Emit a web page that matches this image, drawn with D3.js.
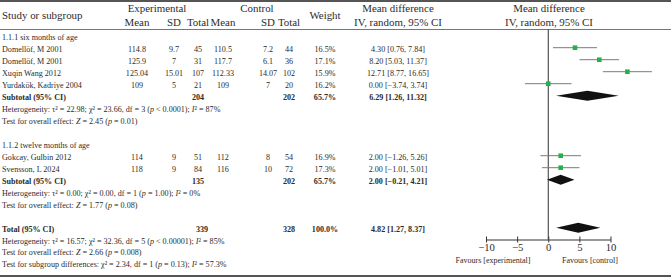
<!DOCTYPE html>
<html>
<head>
<meta charset="utf-8">
<script src="https://cdn.jsdelivr.net/npm/d3@7"></script>
<style>
  body { margin: 0; background: #fff; }
  text { font-family: "Liberation Serif", "DejaVu Serif", serif; fill: #2b2b2b; }
</style>
</head>
<body>
<div id="chart"></div>
<script>
// study level data
const groupLabels = ['1.1.1 six months of age', '1.1.2 twelve months of age'];
const studies = ['Domellöf, M 2001', 'Domellöf, M 2001', 'Xuqin Wang 2012', 'Yurdakök, Kadriye 2004',
    'Gokcay, Gulbin 2012', 'Svensson, L 2024'];
const studyGroup = [0, 0, 0, 0, 1, 1];
const expMean = [114.8, 125.9, 125.04, 109, 114, 118];
const expSD = [9.7, 7, 15.01, 5, 9, 9];
const expN = [45, 31, 107, 21, 51, 84];
const ctlMean = [110.5, 117.7, 112.33, 109, 112, 116];
const ctlSD = [7.2, 6.1, 14.07, 7, 8, 10];
const ctlN = [44, 36, 102, 20, 54, 72];
const weight = [16.5, 17.1, 15.9, 16.2, 16.9, 17.3];
const md = [4.30, 8.20, 12.71, 0.00, 2.00, 2.00];
const ciLow = [0.76, 5.03, 8.77, -3.74, -1.26, -1.01];
const ciHigh = [7.84, 11.37, 16.65, 3.74, 5.26, 5.01];

// subtotals per group
const subExpN = [204, 135];
const subCtlN = [202, 202];
const subWeight = [65.7, 65.7];
const subMD = [6.29, 2.00];
const subLow = [1.26, -0.21];
const subHigh = [11.32, 4.21];
const subTau2 = ['22.98', '0.00'];
const subChi2 = ['23.66', '0.00'];
const subDf = [3, 1];
const subP = ['< 0.0001', '= 1.00'];
const subI2 = ['87%', '0%'];
const subZ = ['2.45', '1.77'];
const subZp = ['0.01', '0.08'];

// overall
const totalExpN = 339;
const totalCtlN = 328;
const totalWeight = 100.0;
const totalMD = 4.82;
const totalLow = 1.27;
const totalHigh = 8.37;
const totalHet = 'Heterogeneity: τ² = 16.57; χ² = 32.36, df = 5 (_p_ < 0.00001); _I_² = 85%';
const totalTest = 'Test for overall effect: _Z_ = 2.66 (_p_ = 0.008)';
const subgroupTest = 'Test for subgroup differences: χ² = 2.34, df = 1 (_p_ = 0.13); _I_² = 57.3%';

const axisTicks = [-10, -5, 0, 5, 10];

const W = 671, H = 280;
const svg = d3.select('#chart').append('svg')
    .attr('width', W)
    .attr('height', H);

const fmt2 = d3.format('.2f');
const fmtW = d3.format('.1f');
const ciText = (m, lo, hi) => `${fmt2(m)} [${fmt2(lo)}, ${fmt2(hi)}]`;

// row index -> y of the row centre
const rowY = d3.scaleLinear().domain([0, 16, 19]).range([35.7, 227.7, 262]);
const x = d3.scaleLinear().domain([-10, 10]).range([486, 610.5]);

const col = { name: 2, eMean: 137, eSD: 174, eN: 198, cMean: 223, cSD: 268, cN: 289, weight: 325, md: 398, plot: 549 };

const bodySize = 8.1;

function rich(sel, str) {
    str.split('_').forEach((part, i) => {
        if (!part) return;
        sel.append('tspan')
            .attr('font-style', i % 2 ? 'italic' : null)
            .text(part);
    });
}

function txt(xp, y, str, opts = {}) {
    const t = svg.append('text')
        .attr('x', xp)
        .attr('y', y)
        .attr('font-size', opts.size || bodySize)
        .attr('text-anchor', opts.anchor || 'start')
        .attr('font-weight', opts.bold ? 'bold' : null);
    rich(t, str);
    return t;
}

const base = (i) => rowY(i) + 4.6;

// borders
svg.append('line').attr('x1', 0).attr('x2', W).attr('y1', 1).attr('y2', 1)
    .attr('stroke', '#555').attr('stroke-width', 2);
svg.append('line').attr('x1', 0).attr('x2', W).attr('y1', 29.5).attr('y2', 29.5)
    .attr('stroke', '#777').attr('stroke-width', 1);
svg.append('line').attr('x1', 0).attr('x2', W).attr('y1', 276).attr('y2', 276)
    .attr('stroke', '#555').attr('stroke-width', 2);

// header
const hs = 10.9;
txt(col.name, 19, 'Study or subgroup', { size: hs });
txt(157, 12, 'Experimental', { size: hs, anchor: 'middle' });
txt(257, 12, 'Control', { size: hs, anchor: 'middle' });
[['eMean', 'Mean'], ['eSD', 'SD'], ['eN', 'Total'], ['cMean', 'Mean'], ['cSD', 'SD'], ['cN', 'Total']]
    .forEach(([k, s]) => txt(col[k], 26, s, { size: hs, anchor: 'middle' }));
txt(col.weight, 19, 'Weight', { size: hs, anchor: 'middle' });
txt(col.md, 12, 'Mean difference', { size: hs, anchor: 'middle' });
txt(col.md, 26, 'IV, random, 95% CI', { size: hs, anchor: 'middle' });
txt(col.plot, 12, 'Mean difference', { size: hs, anchor: 'middle' });
txt(col.plot, 26, 'IV, random, 95% CI', { size: hs, anchor: 'middle' });

// zero line
svg.append('line')
    .attr('x1', x(0)).attr('x2', x(0))
    .attr('y1', 29.5).attr('y2', 239.5)
    .attr('stroke', '#333').attr('stroke-width', 1);

function diamond(r, m, lo, hi) {
    const y = rowY(r);
    svg.append('path')
        .attr('d', `M${x(lo)},${y}L${x(m)},${y - 5}L${x(hi)},${y}L${x(m)},${y + 5}Z`)
        .attr('fill', '#111');
}

// group start rows
const groupStart = [0, 9];

groupLabels.forEach((label, g) => {
    const r0 = groupStart[g];
    txt(col.name, base(r0), label);
    const idx = d3.range(studies.length).filter((i) => studyGroup[i] === g);
    idx.forEach((i, k) => {
        const r = r0 + 1 + k;
        const y = base(r);
        txt(col.name, y, studies[i]);
        txt(col.eMean, y, String(expMean[i]), { anchor: 'middle' });
        txt(col.eSD, y, String(expSD[i]), { anchor: 'middle' });
        txt(col.eN, y, String(expN[i]), { anchor: 'middle' });
        txt(col.cMean, y, String(ctlMean[i]), { anchor: 'middle' });
        txt(col.cSD, y, String(ctlSD[i]), { anchor: 'middle' });
        txt(col.cN, y, String(ctlN[i]), { anchor: 'middle' });
        txt(col.weight, y, fmtW(weight[i]) + '%', { anchor: 'middle' });
        txt(col.md, y, ciText(md[i], ciLow[i], ciHigh[i]), { anchor: 'middle' });

        svg.append('line')
            .attr('x1', x(ciLow[i])).attr('x2', x(ciHigh[i]))
            .attr('y1', rowY(r)).attr('y2', rowY(r))
            .attr('stroke', '#7a7a7a').attr('stroke-width', 1);
        svg.append('rect')
            .attr('x', x(md[i]) - 2.3).attr('y', rowY(r) - 2.3)
            .attr('width', 4.6).attr('height', 4.6)
            .attr('fill', '#22b24c');
    });
    const rs = r0 + 1 + idx.length;
    const ys = base(rs);
    txt(col.name, ys, 'Subtotal (95% CI)', { bold: true });
    txt(col.eN, ys, String(subExpN[g]), { anchor: 'middle', bold: true });
    txt(col.cN, ys, String(subCtlN[g]), { anchor: 'middle', bold: true });
    txt(col.weight, ys, fmtW(subWeight[g]) + '%', { anchor: 'middle', bold: true });
    txt(col.md, ys, ciText(subMD[g], subLow[g], subHigh[g]), { anchor: 'middle', bold: true });
    diamond(rs, subMD[g], subLow[g], subHigh[g]);
    txt(col.name, base(rs + 1),
        `Heterogeneity: τ² = ${subTau2[g]}; χ² = ${subChi2[g]}, df = ${subDf[g]} (_p_ ${subP[g]}); _I_² = ${subI2[g]}`);
    txt(col.name, base(rs + 2), `Test for overall effect: _Z_ = ${subZ[g]} (_p_ = ${subZp[g]})`);
});

// total
const rt = 16;
txt(col.name, base(rt), 'Total (95% CI)', { bold: true });
txt(col.eN + 4, base(rt), String(totalExpN), { anchor: 'middle', bold: true });
txt(col.cN, base(rt), String(totalCtlN), { anchor: 'middle', bold: true });
txt(col.weight, base(rt), fmtW(totalWeight) + '%', { anchor: 'middle', bold: true });
txt(col.md, base(rt), ciText(totalMD, totalLow, totalHigh), { anchor: 'middle', bold: true });
diamond(rt, totalMD, totalLow, totalHigh);
txt(col.name, base(rt + 1), totalHet);
txt(col.name, base(rt + 2), totalTest);
txt(col.name, base(rt + 3), subgroupTest);

// axis
const axisG = svg.append('g')
    .attr('transform', 'translate(0,239.5)')
    .call(d3.axisBottom(x).tickValues(axisTicks).tickSize(0).tickPadding(4));
axisG.select('.domain').attr('stroke', '#333');
axisG.selectAll('.tick').append('line')
    .attr('y1', -3).attr('y2', 3).attr('stroke', '#333');
axisG.selectAll('.tick text')
    .attr('font-size', 10.7)
    .attr('font-family', '"Liberation Serif", serif')
    .attr('fill', '#2b2b2b');

txt(493, 263, 'Favours [experimental]', { anchor: 'middle', size: 8 });
txt(590, 263, 'Favours [control]', { anchor: 'middle', size: 8 });
</script>
</body>
</html>
